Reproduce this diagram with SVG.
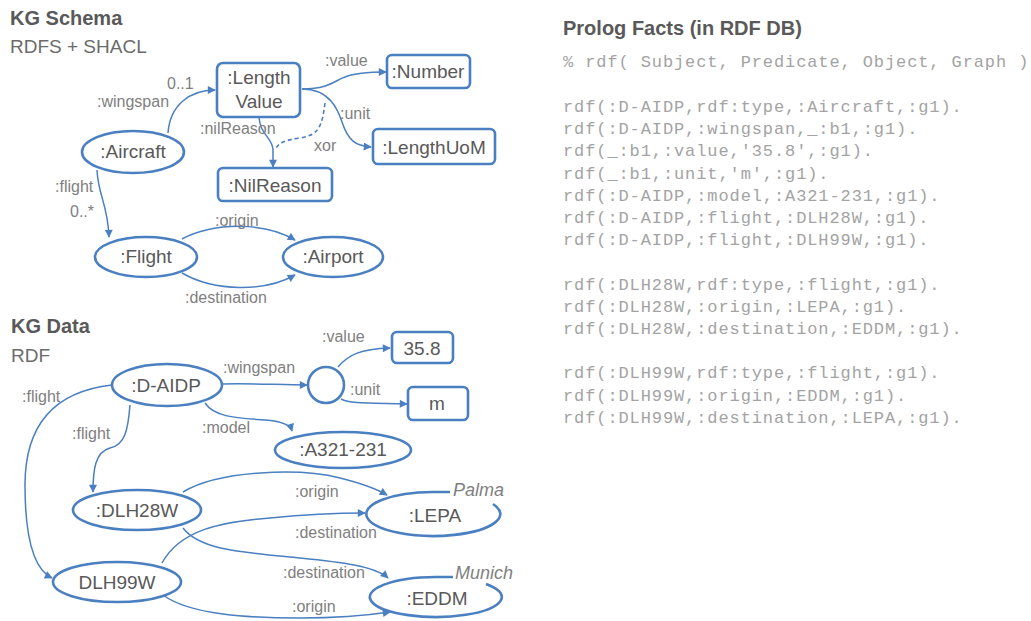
<svg xmlns="http://www.w3.org/2000/svg" width="1031" height="621" viewBox="0 0 1031 621">
<style>
.bg{fill:#ffffff}
.title{font-family:"Liberation Sans",Arial,sans-serif;font-weight:bold;font-size:20px;fill:#595959}
.sub{font-family:"Liberation Sans",Arial,sans-serif;font-size:19px;fill:#6b6b6b}
.nbox{fill:#ffffff;stroke:#4a7fc1;stroke-width:2.6}
.nt{font-family:"Liberation Sans",Arial,sans-serif;font-size:19px;fill:#595959;text-anchor:middle}
.edge{fill:none;stroke:#4a7fc1;stroke-width:1.5}
.dash{fill:none;stroke:#4a7fc1;stroke-width:1.6;stroke-dasharray:4 3}
.el{font-family:"Liberation Sans",Arial,sans-serif;font-size:16px;fill:#808080}
.it{font-family:"Liberation Sans",Arial,sans-serif;font-size:18px;font-style:italic;fill:#808080}
.mono{font-family:"Liberation Mono","Courier New",monospace;font-size:17px;letter-spacing:0.9px;fill:#a3a3a3}
</style>
<defs>
<marker id="arr" viewBox="0 0 10 10" refX="9" refY="5" markerUnits="userSpaceOnUse" markerWidth="9" markerHeight="8" orient="auto">
<path d="M0,0 L10,5 L0,10 z" fill="#4a7fc1"/>
</marker>
</defs>
<rect class="bg" x="0" y="0" width="1031" height="621"/>

<g id="headings">
<text class="title" x="10" y="25">KG Schema</text>
<text class="sub" x="10" y="53">RDFS + SHACL</text>
<text class="title" x="11" y="333">KG Data</text>
<text class="sub" x="11" y="362">RDF</text>
<text class="title" x="563" y="35">Prolog Facts (in RDF DB)</text>
</g>

<g id="connectors">
<!-- schema -->
<path class="edge" d="M168,133 C170,105 190,90 215,90" marker-end="url(#arr)"/>
<path class="edge" d="M302,89 C330,89 335,80 345,77 C355,73 370,72 386,72" marker-end="url(#arr)"/>
<path class="edge" d="M302,89 C330,89 338,110 342,122 C348,140 355,146 371,147" marker-end="url(#arr)"/>
<path class="edge" d="M259,117 C260,135 273,138 273,150 L273,167" marker-end="url(#arr)"/>
<path class="dash" d="M325,103 C322,125 320,135 300,138 C285,140 278,143 275,150"/>
<path class="edge" d="M97,170 C98,195 108,205 109,237" marker-end="url(#arr)"/>
<path class="edge" d="M182,239 C215,222 265,222 295,240" marker-end="url(#arr)"/>
<path class="edge" d="M182,273 C215,292 265,292 295,275" marker-end="url(#arr)"/>
<!-- data -->
<path class="edge" d="M222,384 C250,383 280,385 307,385" marker-end="url(#arr)"/>
<path class="edge" d="M338,367 C348,355 360,349 390,348" marker-end="url(#arr)"/>
<path class="edge" d="M341,399 C350,404 370,403 407,404" marker-end="url(#arr)"/>
<path class="edge" d="M205,403 C215,418 240,418 265,420 C280,421 290,424 292,431" marker-end="url(#arr)"/>
<path class="edge" d="M130,405 C128,430 125,445 110,448 C95,452 93,470 93,492" marker-end="url(#arr)"/>
<path class="edge" d="M112,385 C50,392 25,430 25,485 C25,540 35,570 52,578" marker-end="url(#arr)"/>
<path class="edge" d="M183,492 C220,470 300,468 340,478 C360,483 375,488 387,495" marker-end="url(#arr)"/>
<path class="edge" d="M162,563 C180,530 220,522 270,518 C300,515 330,513 365,513" marker-end="url(#arr)"/>
<path class="edge" d="M183,528 C200,550 240,552 300,558 C340,562 375,566 388,578" marker-end="url(#arr)"/>
<path class="edge" d="M163,595 C190,615 250,618 300,618 C340,618 370,615 390,612" marker-end="url(#arr)"/>
</g>

<g id="edge-labels">
<text class="el" x="97" y="107">:wingspan</text>
<text class="el" x="167" y="89">0..1</text>
<text class="el" x="325" y="66">:value</text>
<text class="el" x="340" y="119">:unit</text>
<text class="el" x="200" y="134">:nilReason</text>
<text class="el" x="314" y="151">xor</text>
<text class="el" x="55" y="192">:flight</text>
<text class="el" x="70" y="217">0..*</text>
<text class="el" x="215" y="226">:origin</text>
<text class="el" x="185" y="303">:destination</text>
<text class="el" x="223" y="373">:wingspan</text>
<text class="el" x="322" y="342">:value</text>
<text class="el" x="350" y="395">:unit</text>
<text class="el" x="202" y="433">:model</text>
<text class="el" x="72" y="439">:flight</text>
<text class="el" x="22" y="402">:flight</text>
<text class="el" x="295" y="497">:origin</text>
<text class="el" x="295" y="538">:destination</text>
<text class="el" x="283" y="578">:destination</text>
<text class="el" x="292" y="612">:origin</text>
</g>

<g id="n-lengthvalue"><rect class="nbox" x="217" y="63" width="83" height="54" rx="6"/><text class="nt" x="259" y="84">:Length</text><text class="nt" x="259" y="108">Value</text></g>
<g id="n-number"><rect class="nbox" x="387" y="55" width="83" height="33" rx="5"/><text class="nt" x="428" y="78">:Number</text></g>
<g id="n-lengthuom"><rect class="nbox" x="373" y="129" width="122" height="35" rx="5"/><text class="nt" x="434" y="154">:LengthUoM</text></g>
<g id="n-nilreason"><rect class="nbox" x="218" y="168" width="114" height="33" rx="5"/><text class="nt" x="275" y="192">:NilReason</text></g>
<g id="n-aircraft"><ellipse class="nbox" cx="133" cy="152" rx="51" ry="21"/><text class="nt" x="133" y="158">:Aircraft</text></g>
<g id="n-flight"><ellipse class="nbox" cx="146" cy="257" rx="51" ry="20"/><text class="nt" x="146" y="263">:Flight</text></g>
<g id="n-airport"><ellipse class="nbox" cx="333" cy="257" rx="50" ry="20"/><text class="nt" x="333" y="263">:Airport</text></g>

<g id="n-daidp"><ellipse class="nbox" cx="167" cy="385" rx="55" ry="21"/><text class="nt" x="166" y="392">:D-AIDP</text></g>
<g id="n-blank"><ellipse class="nbox" cx="326" cy="385" rx="18" ry="18"/></g>
<g id="n-358"><rect class="nbox" x="392" y="332" width="61" height="31" rx="5"/><text class="nt" x="422" y="355">35.8</text></g>
<g id="n-m"><rect class="nbox" x="408" y="387" width="60" height="33" rx="5"/><text class="nt" x="437" y="410">m</text></g>
<g id="n-a321"><ellipse class="nbox" cx="343" cy="450" rx="68" ry="18"/><text class="nt" x="343" y="456">:A321-231</text></g>
<g id="n-dlh28w"><ellipse class="nbox" cx="137" cy="510" rx="64" ry="20"/><text class="nt" x="137" y="517">:DLH28W</text></g>
<g id="n-dlh99w"><ellipse class="nbox" cx="117" cy="582" rx="64" ry="20"/><text class="nt" x="117" y="589">DLH99W</text></g>
<g id="n-lepa"><path class="nbox" fill="none" d="M450,492 L433,492 A67,22 0 1 0 493,504" style="fill:none"/><text class="nt" x="435" y="522">:LEPA</text><text class="it" x="453" y="496">Palma</text></g>
<g id="n-eddm"><path class="nbox" d="M453,577 L436,577 A66,20 0 1 0 486,584" style="fill:none"/><text class="nt" x="437" y="605">:EDDM</text><text class="it" x="455" y="579">Munich</text></g>

<g id="prolog">
<text class="mono" x="563" y="67">% rdf( Subject, Predicate, Object, Graph )</text>
<text class="mono" x="563" y="112">rdf(:D-AIDP,rdf:type,:Aircraft,:g1).</text>
<text class="mono" x="563" y="134.2">rdf(:D-AIDP,:wingspan,_:b1,:g1).</text>
<text class="mono" x="563" y="156.4">rdf(_:b1,:value,'35.8',:g1).</text>
<text class="mono" x="563" y="178.6">rdf(_:b1,:unit,'m',:g1).</text>
<text class="mono" x="563" y="200.8">rdf(:D-AIDP,:model,:A321-231,:g1).</text>
<text class="mono" x="563" y="223">rdf(:D-AIDP,:flight,:DLH28W,:g1).</text>
<text class="mono" x="563" y="245.2">rdf(:D-AIDP,:flight,:DLH99W,:g1).</text>
<text class="mono" x="563" y="289.6">rdf(:DLH28W,rdf:type,:flight,:g1).</text>
<text class="mono" x="563" y="311.8">rdf(:DLH28W,:origin,:LEPA,:g1).</text>
<text class="mono" x="563" y="334">rdf(:DLH28W,:destination,:EDDM,:g1).</text>
<text class="mono" x="563" y="378.4">rdf(:DLH99W,rdf:type,:flight,:g1).</text>
<text class="mono" x="563" y="400.6">rdf(:DLH99W,:origin,:EDDM,:g1).</text>
<text class="mono" x="563" y="422.8">rdf(:DLH99W,:destination,:LEPA,:g1).</text>
</g>
</svg>
